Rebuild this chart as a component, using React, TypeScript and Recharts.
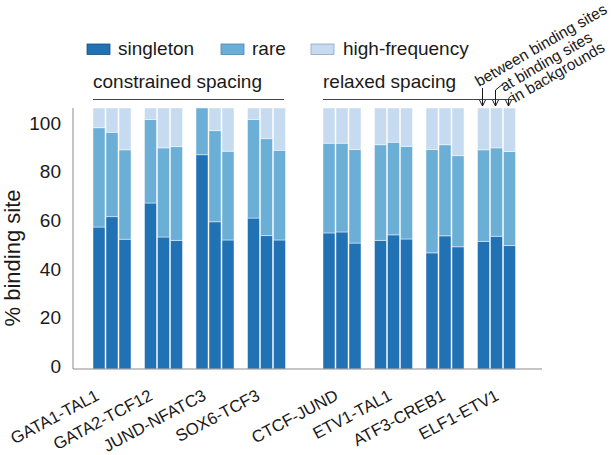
import React from 'react';
import { BarChart, Bar, XAxis, YAxis } from 'recharts';

const categories = ['GATA1-TAL1', 'GATA2-TCF12', 'JUND-NFATC3', 'SOX6-TCF3', 'CTCF-JUND', 'ETV1-TAL1', 'ATF3-CREB1', 'ELF1-ETV1'];
const spacingTitles = ['constrained spacing', 'relaxed spacing'];
const siteLabels = ['between binding sites', 'at binding sites', 'in backgrounds'];
const seriesNames = ['singleton', 'rare', 'high-frequency'];
const yTicks = [0, 20, 40, 60, 80, 100];
const yMax = 107.4;
const yLabel = '% binding site';

// between binding sites
const betweenSingleton = [58.4, 68.3, 88.2, 62.1, 56.0, 52.9, 47.8, 52.5];
const betweenRare = [40.9, 34.4, 19.2, 40.6, 36.9, 39.4, 42.5, 37.7];
const betweenHigh = [8.1, 4.7, 0, 4.7, 14.5, 15.1, 17.1, 17.2];
// at binding sites
const atSingleton = [62.7, 54.3, 60.6, 54.9, 56.4, 55.2, 54.8, 54.6];
const atRare = [34.7, 36.7, 37.5, 39.9, 36.5, 38.1, 37.5, 36.4];
const atHigh = [10.0, 16.4, 9.3, 12.6, 14.5, 14.1, 15.1, 16.4];
// in backgrounds
const bgSingleton = [53.4, 52.9, 53.1, 53.1, 51.8, 53.5, 50.3, 50.8];
const bgRare = [36.8, 38.6, 36.5, 36.9, 38.5, 38.1, 37.5, 38.7];
const bgHigh = [17.2, 15.9, 17.8, 17.4, 17.1, 15.8, 19.6, 17.9];

const COLORS = ['#2171b5', '#6baed6', '#c6dbef'];
const LEGEND_STROKE = ['#1a4f80', '#4a86ad', '#8ea6bd'];
const FONT = '"Liberation Sans", Arial, Helvetica, sans-serif';
const TEXT = '#1a1a1a';
const AXIS = '#8c8c8c';

const rows = categories.map((name, i) => ({
  name,
  b0: betweenSingleton[i], b1: betweenRare[i], b2: betweenHigh[i],
  a0: atSingleton[i], a1: atRare[i], a2: atHigh[i],
  g0: bgSingleton[i], g1: bgRare[i], g2: bgHigh[i],
}));
const leftRows = rows.slice(0, 4);
const rightRows = rows.slice(4);
const stacks = ['b', 'a', 'g'];

const XTick = (props: any) => {
  const { x, y, payload } = props;
  const tx = x - 11.5 + (x - 112) * 0.04;
  const ty = y + 22;
  return (
    <text x={tx} y={ty} transform={`rotate(-28, ${tx}, ${ty})`} textAnchor="end"
      fontSize={16.8} fill={TEXT} fontFamily={FONT}>{payload.value}</text>
  );
};

const YTick = (props: any) => {
  const { x, y, payload } = props;
  return (
    <text x={x - 4} y={y - 3} dy="0.355em" textAnchor="end" fontSize={19} fill={TEXT} fontFamily={FONT}>
      {payload.value}
    </text>
  );
};

const renderBars = () =>
  stacks.flatMap((p) =>
    [0, 1, 2].map((j) => (
      <Bar key={`${p}${j}`} dataKey={`${p}${j}`} stackId={p} fill={COLORS[j]}
        stroke="#ffffff" strokeOpacity={0.45} strokeWidth={1} isAnimationActive={false} />
    ))
  );

const chartStyle: React.CSSProperties = { position: 'absolute', left: 0, top: 0 };

export default function App() {
  const legendX = [87, 221, 311];
  const legendTextX = [118, 252, 343];
  return (
    <div style={{ position: 'absolute', left: 0, top: 0, width: 615, height: 455, background: '#fff', fontFamily: FONT }}>
      <BarChart width={615} height={455} data={leftRows} style={chartStyle}
        margin={{ top: 108, right: 323, bottom: 56, left: 0 }} barSize={12} barGap={1}>
        <XAxis dataKey="name" height={30} padding={{ left: 13, right: 0 }} tickLine={false}
          axisLine={{ stroke: AXIS }} tick={<XTick />} interval={0} />
        <YAxis width={73} domain={[0, yMax]} ticks={yTicks} tickLine={false}
          axisLine={{ stroke: AXIS }} tick={<YTick />} allowDataOverflow />
        {renderBars()}
      </BarChart>
      <BarChart width={615} height={455} data={rightRows} style={chartStyle}
        margin={{ top: 108, right: 73, bottom: 56, left: 292 }} barSize={12} barGap={1}>
        <XAxis dataKey="name" height={30} padding={{ left: 24, right: 20 }} tickLine={false}
          axisLine={{ stroke: AXIS }} tick={<XTick />} interval={0} />
        <YAxis hide domain={[0, yMax]} allowDataOverflow />
        {renderBars()}
      </BarChart>
      <svg width={615} height={455} style={{ position: 'absolute', left: 0, top: 0, pointerEvents: 'none' }}>
        {/* legend */}
        {seriesNames.map((n, i) => (
          <g key={n}>
            <rect x={legendX[i]} y={44} width={23} height={10.5} fill={COLORS[i]} stroke={LEGEND_STROKE[i]} strokeWidth={0.8} />
            <text x={legendTextX[i]} y={55} fontSize={19} fill={TEXT} fontFamily={FONT}>{n}</text>
          </g>
        ))}
        {/* spacing titles */}
        <text x={93} y={88} fontSize={19} fill={TEXT} fontFamily={FONT}>{spacingTitles[0]}</text>
        <line x1={93} x2={284} y1={99.5} y2={99.5} stroke="#444" strokeWidth={1} />
        <text x={323} y={88} fontSize={19} fill={TEXT} fontFamily={FONT}>{spacingTitles[1]}</text>
        <line x1={323} x2={514} y1={99.5} y2={99.5} stroke="#444" strokeWidth={1} />
        {/* site annotations */}
        <text x={479} y={87} transform="rotate(-30, 479, 87)" fontSize={15.5} fill={TEXT} fontFamily={FONT}>{siteLabels[0]}</text>
        <text x={504} y={92} transform="rotate(-30, 504, 92)" fontSize={15.5} fill={TEXT} fontFamily={FONT}>{siteLabels[1]}</text>
        <text x={515} y={103} transform="rotate(-30, 515, 103)" fontSize={15.5} fill={TEXT} fontFamily={FONT}>{siteLabels[2]}</text>
        <g stroke={TEXT} strokeWidth={1} fill="none">
          <path d="M482.5 88 L482.5 106 M479.5 100 L482.5 106 L485.5 100" />
          <path d="M503 84 L495.5 90 L495.5 106 M492.5 100 L495.5 106 L498.5 100" />
          <path d="M514 95 Q508.5 96 508.5 100 L508.5 106 M505.5 100 L508.5 106 L511.5 100" />
        </g>
        {/* y label */}
        <text x={20} y={258} transform="rotate(-90, 20, 258)" textAnchor="middle" fontSize={22} fill={TEXT} fontFamily={FONT}>{yLabel}</text>
      </svg>
    </div>
  );
}
